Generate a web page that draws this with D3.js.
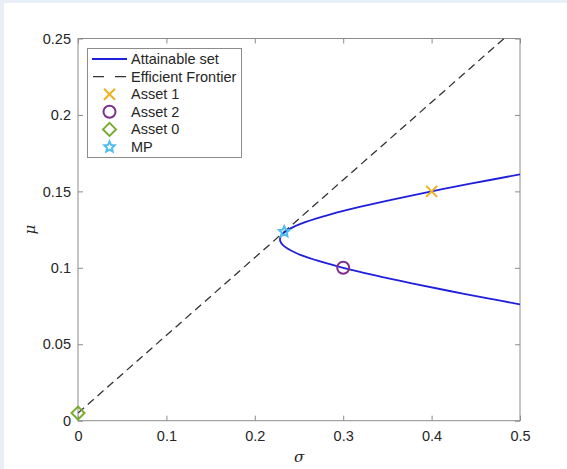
<!DOCTYPE html>
<html>
<head>
<meta charset="utf-8">
<script src="https://cdn.jsdelivr.net/npm/d3@7"></script>
<style>
  html, body { margin: 0; padding: 0; background: #e8eff7; }
  #chart { width: 567px; height: 469px; }
  text { font-family: "Liberation Sans", Arial, sans-serif; fill: #262626; }
</style>
</head>
<body>
<div id="chart"></div>
<script>
// ========== DATA ==========
const xTicks = [0, 0.1, 0.2, 0.3, 0.4, 0.5];
const xTickLabels = ['0', '0.1', '0.2', '0.3', '0.4', '0.5'];
const yTicks = [0, 0.05, 0.1, 0.15, 0.2, 0.25];
const yTickLabels = ['0', '0.05', '0.1', '0.15', '0.2', '0.25'];

// attainable set (lower branch -> nose -> upper branch)
const attainSigma = [0.5, 0.4638, 0.4190, 0.3763, 0.3363, 0.3, 0.2691, 0.2455, 0.2316, 0.2288, 0.2285,
                     0.2289, 0.2312, 0.2381, 0.2577, 0.2857, 0.3198, 0.3583, 0.4, 0.4439, 0.5];
const attainMu = [0.0761, 0.08, 0.085, 0.09, 0.095, 0.1, 0.105, 0.11, 0.115, 0.1175, 0.1186,
                  0.12, 0.122, 0.125, 0.13, 0.135, 0.14, 0.145, 0.15, 0.155, 0.1611];

// efficient frontier (straight line, clipped by the axes)
const frontierSigma = [0, 0.5];
const frontierMu = [0.005, 0.2592];

const legendLabels = ['Attainable set', 'Efficient Frontier', 'Asset 1', 'Asset 2', 'Asset 0', 'MP'];
const assetNames = ['Asset 1', 'Asset 2', 'Asset 0', 'MP'];
const assetSigma = [0.4, 0.3, 0, 0.2333];
const assetMu = [0.15, 0.1, 0.005, 0.1236];

// ========== DRAW ==========
const W = 567, H = 469;
const pLeft = 78, pRight = 520, pTop = 38.5, pBottom = 420.7;

const svg = d3.select('#chart').append('svg')
    .attr('width', W).attr('height', H);

svg.append('rect').attr('x', 4).attr('y', 3).attr('width', W - 4).attr('height', H - 3).attr('fill', '#fff');

const x = d3.scaleLinear().domain([0, 0.5]).range([pLeft, pRight]);
const y = d3.scaleLinear().domain([0, 0.25]).range([pBottom, pTop]);

svg.append('clipPath').attr('id', 'plotclip')
  .append('rect').attr('x', pLeft).attr('y', pTop).attr('width', pRight - pLeft).attr('height', pBottom - pTop);

const axisColor = '#8c8c8c';
function styleAxis(g) {
    g.select('.domain').remove();
    g.selectAll('.tick line').attr('stroke', axisColor);
    g.selectAll('.tick text').attr('fill', '#303030').style('font-size', '14.5px')
        .style('font-family', '"Liberation Sans", Arial, sans-serif');
}

svg.append('g').attr('transform', `translate(0,${pBottom})`)
    .call(d3.axisBottom(x).tickValues(xTicks).tickFormat((d, i) => xTickLabels[i]).tickSize(-5).tickPadding(10))
    .call(styleAxis);
svg.append('g').attr('transform', `translate(0,${pTop})`)
    .call(d3.axisTop(x).tickValues(xTicks).tickFormat('').tickSize(-5))
    .call(styleAxis);
svg.append('g').attr('transform', `translate(${pLeft},0)`)
    .call(d3.axisLeft(y).tickValues(yTicks).tickFormat((d, i) => yTickLabels[i]).tickSize(-5).tickPadding(7))
    .call(styleAxis);
svg.append('g').attr('transform', `translate(${pRight},0)`)
    .call(d3.axisRight(y).tickValues(yTicks).tickFormat('').tickSize(-5))
    .call(styleAxis);

svg.append('rect')
    .attr('x', pLeft).attr('y', pTop).attr('width', pRight - pLeft).attr('height', pBottom - pTop)
    .attr('fill', 'none').attr('stroke', axisColor).attr('stroke-width', 1);

const plot = svg.append('g').attr('clip-path', 'url(#plotclip)');

const lineGen = d3.line().x(d => x(d[0])).y(d => y(d[1]));

plot.append('path')
    .datum(frontierSigma.map((s, i) => [s, frontierMu[i]]))
    .attr('d', lineGen)
    .attr('fill', 'none').attr('stroke', '#333').attr('stroke-width', 1.3)
    .attr('stroke-dasharray', '8,5');

plot.append('path')
    .datum(attainSigma.map((s, i) => [s, attainMu[i]]))
    .attr('d', lineGen.curve(d3.curveCatmullRom.alpha(0.5)))
    .attr('fill', 'none').attr('stroke', '#1f1fdc').attr('stroke-width', 1.8);

// marker shapes
const markerStyle = {
    'Asset 1': { color: '#EDB120' },
    'Asset 2': { color: '#7E2F8E' },
    'Asset 0': { color: '#77AC30' },
    'MP': { color: '#4DBEEE' }
};
function markerPath(name) {
    if (name === 'Asset 1') {
        const r = 5.5;
        return `M${-r},${-r}L${r},${r}M${-r},${r}L${r},${-r}`;
    }
    if (name === 'Asset 2') {
        const r = 6;
        return `M${r},0A${r},${r} 0 1,1 ${-r},0A${r},${r} 0 1,1 ${r},0Z`;
    }
    if (name === 'Asset 0') {
        const r = 6.5;
        return `M0,${-r}L${r},0L0,${r}L${-r},0Z`;
    }
    // pentagram
    const ro = 5.5, ri = 2.6;
    const pts = d3.range(10).map(k => {
        const a = -Math.PI / 2 + k * Math.PI / 5;
        const rr = k % 2 === 0 ? ro : ri;
        return [rr * Math.cos(a), rr * Math.sin(a)];
    });
    return 'M' + pts.map(p => p.join(',')).join('L') + 'Z';
}

svg.selectAll('path.marker')
    .data(assetNames)
    .enter().append('path')
    .attr('class', 'marker')
    .attr('transform', (d, i) => `translate(${x(assetSigma[i])},${y(assetMu[i])})`)
    .attr('d', d => markerPath(d))
    .attr('fill', 'none')
    .attr('stroke', d => markerStyle[d].color)
    .attr('stroke-width', 2);

// legend
const lg = svg.append('g');
lg.append('rect').attr('x', 87.5).attr('y', 48.5).attr('width', 154).attr('height', 109)
    .attr('fill', '#fff').attr('stroke', '#8c8c8c').attr('stroke-width', 1);

const rowY = d => 59 + d * 17.6;
legendLabels.forEach((lab, i) => {
    const yy = rowY(i);
    if (i === 0) {
        lg.append('line').attr('x1', 92).attr('x2', 127).attr('y1', yy).attr('y2', yy)
            .attr('stroke', '#1f1fdc').attr('stroke-width', 1.8);
    } else if (i === 1) {
        lg.append('line').attr('x1', 93).attr('x2', 126).attr('y1', yy).attr('y2', yy)
            .attr('stroke', '#333').attr('stroke-width', 1.3).attr('stroke-dasharray', '11,11');
    } else {
        lg.append('path').attr('transform', `translate(109.5,${yy})`)
            .attr('d', markerPath(lab)).attr('fill', 'none')
            .attr('stroke', markerStyle[lab].color).attr('stroke-width', 2);
    }
    lg.append('text').attr('x', 131).attr('y', yy).attr('dy', '0.35em')
        .style('font-size', '14.5px').text(lab);
});

// axis labels
svg.append('text').attr('x', (pLeft + pRight) / 2).attr('y', 462)
    .attr('text-anchor', 'middle')
    .style('font-family', '"DejaVu Serif", "Liberation Serif", serif').style('font-style', 'italic')
    .style('font-size', '15px').text('σ');
svg.append('text').attr('transform', `translate(35,${(pTop + pBottom) / 2}) rotate(-90)`)
    .attr('text-anchor', 'middle')
    .style('font-family', '"DejaVu Serif", "Liberation Serif", serif').style('font-style', 'italic')
    .style('font-size', '15px').text('μ');
</script>
</body>
</html>
